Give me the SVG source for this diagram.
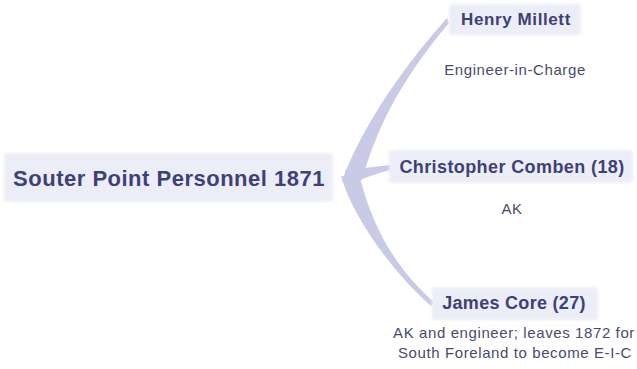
<svg xmlns="http://www.w3.org/2000/svg" width="637" height="369" viewBox="0 0 637 369">
<defs>
<filter id="soft" x="-10%" y="-30%" width="120%" height="160%">
<feGaussianBlur stdDeviation="1.5"/>
</filter>
<style>
.box{fill:#eceef7;}
.title{font-family:"Liberation Sans",Arial,sans-serif;font-weight:bold;fill:#3e4079;text-anchor:middle;}
.desc{font-family:"Liberation Sans",Arial,sans-serif;fill:#4a4a6e;text-anchor:middle;font-size:15px;letter-spacing:0.6px;}
.conn{fill:#c9cbe6;}
</style>
</defs>
<rect width="637" height="369" fill="#ffffff"/>
<g id="connectors">
<path class="conn" d="M342,182 C350,158 376,98 447,18 L449,23 C396,86 376,132 362,180 Z"/>
<path class="conn" d="M345,170 Q366,168 390,165 L390,170 Q366,176 345,187 Z"/>
<path class="conn" d="M341,176 C352,215 390,270 431,306 L434,302 C400,272 375,235 360,178 Z"/>
</g>
<g id="root">
<rect class="box" x="4" y="153" width="329" height="49" rx="3" filter="url(#soft)"/>
<text class="title" x="169" y="186" font-size="22" letter-spacing="0.5">Souter Point Personnel 1871</text>
</g>
<g id="henry">
<rect class="box" x="449" y="4" width="132" height="31" rx="3" filter="url(#soft)"/>
<text class="title" x="516" y="25" font-size="17" letter-spacing="0.6">Henry Millett</text>
<text class="desc" x="515" y="75">Engineer-in-Charge</text>
</g>
<g id="christopher">
<rect class="box" x="389" y="150" width="244" height="33" rx="3" filter="url(#soft)"/>
<text class="title" x="512" y="173" font-size="18" letter-spacing="0.4">Christopher Comben (18)</text>
<text class="desc" x="512" y="214">AK</text>
</g>
<g id="james">
<rect class="box" x="432" y="287" width="166" height="33" rx="3" filter="url(#soft)"/>
<text class="title" x="514" y="309" font-size="18" letter-spacing="0.3">James Core (27)</text>
<text class="desc" x="514" y="338">AK and engineer; leaves 1872 for</text>
<text class="desc" x="515" y="358">South Foreland to become E-I-C</text>
</g>
</svg>
